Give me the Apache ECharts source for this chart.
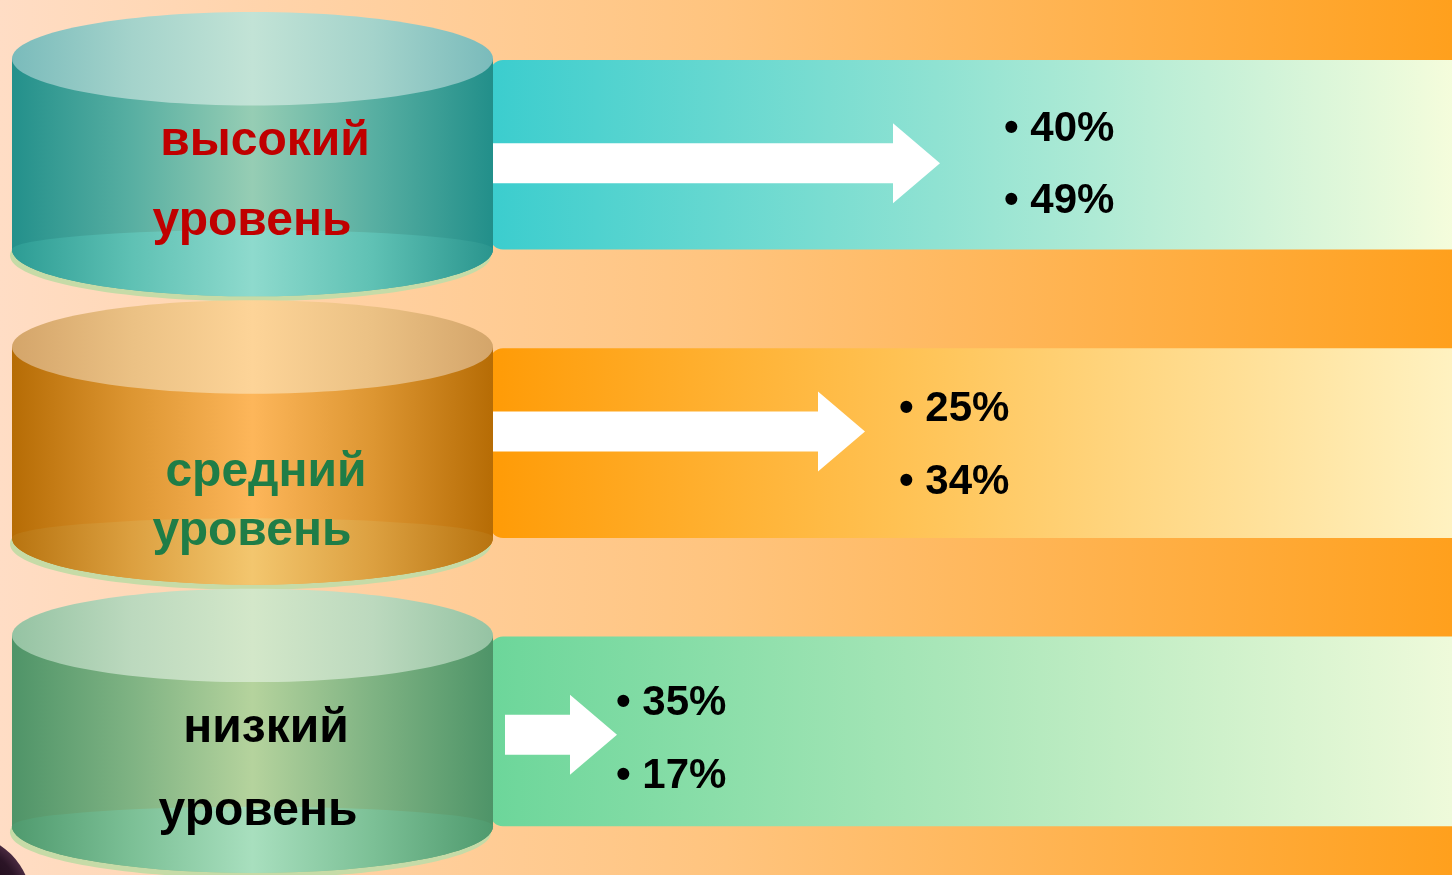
<!DOCTYPE html>
<html><head><meta charset="utf-8">
<script src="https://cdn.jsdelivr.net/npm/echarts@6/dist/echarts.min.js"></script>
<style>html,body{margin:0;padding:0;overflow:hidden;background:#fff}#c{width:1452px;height:875px}</style>
</head><body><div id="c"></div>
<script>
// ---- data ----
const levels = ['высокий уровень', 'средний уровень', 'низкий уровень'];
const firstValues = [40, 25, 35];
const secondValues = [49, 34, 17];
const arrowReach = [940, 865, 617]; // arrow tip on the horizontal scale (0–1452)

// ---- styles / layout ----
const FONT = '"Liberation Sans", Arial, sans-serif';
const themes = [
  { label: '#C00000',
    body: ['#23908B', '#58AFA2', '#96CDB4', '#58AFA2', '#228F8A'],
    top:  ['#7ABBBB', '#A4D3CB', '#C2E3D6', '#A4D3CB', '#7ABBBB'],
    base: ['#2C9C94', '#5FC1B4', '#8EDACD', '#5FC1B4', '#2A958E'],
    panel:['#3BCDCE', '#8FE2D2', '#FAFEDC'] },
  { label: '#1F7D47',
    body: ['#B66C05', '#DD9632', '#FDB65A', '#DD9632', '#B66C05'],
    top:  ['#D4A56A', '#EBC184', '#FDD498', '#EBC184', '#D4A56A'],
    base: ['#B87410', '#DCA040', '#F3C66E', '#DCA040', '#B87410'],
    panel:['#FF9B06', '#FFC55A', '#FFF4C6'] },
  { label: '#000000',
    body: ['#4F9468', '#7FB383', '#B5D39D', '#7FB383', '#4E9468'],
    top:  ['#95C3A3', '#BCD9BE', '#D3E7C9', '#BCD9BE', '#95C3A3'],
    base: ['#4F9A6E', '#7CC096', '#A8DFBE', '#7CC096', '#4F9A6E'],
    panel:['#6CD69A', '#A8E6B8', '#F2FBDC'] }
];
const layout = [
  { arrowFrom: 493, arrowDy: 9,   textX: 1004, textDy: [-25, 47], label: [[265, -12], [252, 68]] },
  { arrowFrom: 493, arrowDy: -11, textX: 899,  textDy: [-33, 40], label: [[266, 30], [252, 89]] },
  { arrowFrom: 505, arrowDy: 4,   textX: 616,  textDy: [-27, 46], label: [[266, -2], [258, 81]] }
];

function hGrad(stops) {
  const pos = stops.length === 3 ? [0, 0.45, 1] : stops.map((c, i) => i / (stops.length - 1));
  return new echarts.graphic.LinearGradient(0, 0, 1, 0, stops.map((c, i) => ({ offset: pos[i], color: c })));
}

const chart = echarts.init(document.getElementById('c'));

function renderItem(params, api) {
  const i = params.dataIndex;
  const cat = api.value(1);
  const th = themes[i], L = layout[i];
  const X = v => api.coord([v, cat])[0];
  const cy = api.coord([0, cat])[1];
  const band = api.size([0, 1])[1];
  const half = band * 0.331;        // half body height
  const ry = band * 0.162;          // ellipse radius (perspective)
  const x0 = X(12), x1 = X(493);
  const rx = (x1 - x0) / 2, cx = (x0 + x1) / 2;
  const top = cy - half, bot = cy + half;
  const children = [];

  // panel
  const pTop = cy - band * 0.327, pH = band * 0.658;
  children.push({ type: 'rect', shape: { x: X(490), y: pTop, width: X(1480) - X(490), height: pH, r: [13, 0, 0, 13] },
    style: { fill: hGrad(th.panel) } });

  // shadow under cylinder
  children.push({ type: 'ellipse', shape: { cx: cx - 2, cy: bot + 6, rx: rx, ry: ry - 1 }, style: { fill: '#C6DBA7' } });
  // body
  children.push({ type: 'path', shape: { pathData:
      `M ${x0} ${top} L ${x0} ${bot} A ${rx} ${ry} 0 0 0 ${x1} ${bot} L ${x1} ${top} Z` },
    style: { fill: hGrad(th.body) } });
  // lighter base band
  children.push({ type: 'path', shape: { pathData:
      `M ${x0} ${bot} A ${rx} ${ry * 0.42} 0 0 1 ${x1} ${bot} A ${rx} ${ry} 0 0 1 ${x0} ${bot} Z` },
    style: { fill: hGrad(th.base) } });
  // top ellipse
  children.push({ type: 'ellipse', shape: { cx: cx, cy: top, rx: rx, ry: ry }, style: { fill: hGrad(th.top) } });

  // arrow
  const tip = X(api.value(0)), from = X(L.arrowFrom);
  const ay = cy + L.arrowDy, hb = tip - 47;
  children.push({ type: 'polygon', shape: { points: [
      [from, ay - 20], [hb, ay - 20], [hb, ay - 40], [tip, ay], [hb, ay + 40], [hb, ay + 20], [from, ay + 20]] },
    style: { fill: '#FFFFFF' } });

  // level label (two lines)
  const words = levels[i].split(' ');
  words.forEach((w, k) => {
    children.push({ type: 'text', style: { text: w, x: X(L.label[k][0]), y: cy + L.label[k][1],
      align: 'center', verticalAlign: 'middle', fill: th.label,
      fontFamily: FONT, fontWeight: 'bold', fontSize: 48 } });
  });

  // percent values
  [firstValues[i], secondValues[i]].forEach((v, k) => {
    children.push({ type: 'text', style: { text: '• ' + v + '%', x: X(L.textX), y: cy + L.textDy[k],
      align: 'left', verticalAlign: 'middle', fill: '#000',
      fontFamily: FONT, fontWeight: 'bold', fontSize: 42 } });
  });

  return { type: 'group', children };
}

chart.setOption({
  animation: false,
  graphic: [
    { type: 'rect', z: -10, silent: true, shape: { x: 0, y: 0, width: 1452, height: 875 },
      style: { fill: new echarts.graphic.LinearGradient(0, 0, 1, 0, [
        { offset: 0, color: '#FFDDC5' }, { offset: 0.5, color: '#FFC47E' }, { offset: 1, color: '#FFA01D' }]) } },
    { type: 'circle', z: 100, silent: true, shape: { cx: -40, cy: 905, r: 72 },
      style: { fill: new echarts.graphic.RadialGradient(0.5, 0.5, 0.5, [
        { offset: 0, color: '#0E0008' }, { offset: 0.85, color: '#2B1426' }, { offset: 1, color: '#4A2A40' }]) } }
  ],
  grid: { left: 0, right: 0, top: 10, height: 872, containLabel: false },
  xAxis: { type: 'value', min: 0, max: 1452, show: false },
  yAxis: { type: 'category', data: levels, inverse: true, show: false },
  series: [{
    type: 'custom',
    renderItem,
    clip: false,
    data: levels.map((l, i) => [arrowReach[i], i])
  }]
});
</script></body></html>
